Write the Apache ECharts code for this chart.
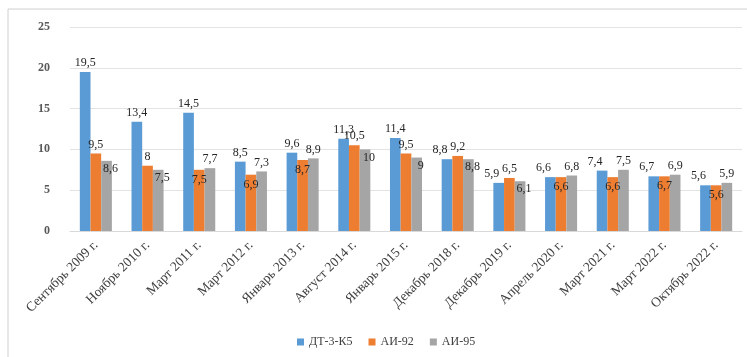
<!DOCTYPE html>
<html>
<head>
<meta charset="utf-8">
<script src="https://cdn.jsdelivr.net/npm/echarts@6/dist/echarts.min.js"></script>
<style>
html,body{margin:0;padding:0;background:#fff;}
#chart{width:747px;height:357px;}
</style>
</head>
<body>
<div id="chart"></div>
<script>
// Fuel price indices by period
const categories = ['Сентябрь 2009 г.','Ноябрь 2010 г.','Март 2011 г.','Март 2012 г.','Январь 2013 г.','Август 2014 г.','Январь 2015 г.','Декабрь 2018 г.','Декабрь 2019 г.','Апрель 2020 г.','Март 2021 г.','Март 2022 г.','Октябрь 2022 г.'];
const seriesNames = ['ДТ-3-К5','АИ-92','АИ-95'];
const dt = [19.5,13.4,14.5,8.5,9.6,11.3,11.4,8.8,5.9,6.6,7.4,6.7,5.6];
const ai92 = [9.5,8,7.5,6.9,8.7,10.5,9.5,9.2,6.5,6.6,6.6,6.7,5.6];
const ai95 = [8.6,7.5,7.7,7.3,8.9,10,9,8.8,6.1,6.8,7.5,6.9,5.9];
const yTicks = [0,5,10,15,20,25];

const colors = ['#5b9bd5','#ed7d31','#a5a5a5'];
const serif = '"Liberation Serif","DejaVu Serif",serif';

const chart = echarts.init(document.getElementById('chart'));
const fmt = p => String(p.value).replace('.', ',');

// Crowded groups: move labels so they do not sit on top of each other
const dtItems = dt.map((v, i) => {
  const crowded = v < 10 && v - ai92[i] < 0.85;
  return crowded ? {value: v, label: {offset: [-7, 0]}} : v;
});
const ai92Items = ai92.map((v, i) => {
  const low = v <= dt[i] && v <= ai95[i];
  return low ? {value: v, label: {position: 'insideTop', distance: 4}} : v;
});
const ai95Items = ai95.map((v, i) => {
  const low = v < ai92[i];
  return low ? {value: v, label: {position: 'insideTop', distance: 2, offset: [4, 0]}} : v;
});

const mk = (name, data, i) => ({
  name, type: 'bar', data,
  itemStyle: {color: colors[i]},
  barGap: '0%', barCategoryGap: '38%',
  label: {show: true, position: 'top', distance: 3, formatter: fmt,
    fontFamily: serif, fontSize: 12, color: '#262626'}
});
chart.setOption({
  animation: false,
  color: colors,
  graphic: [{type: 'rect', shape: {x: 8, y: 9, width: 760, height: 370},
    style: {fill: 'none', stroke: '#d0d0d0', lineWidth: 1}}],
  grid: {left: 70, right: 5, top: 27, bottom: 126},
  legend: {bottom: 4, left: 292, itemWidth: 7, itemHeight: 7, itemGap: 16,
    icon: 'rect', textStyle: {fontFamily: serif, fontSize: 12, color: '#404040'},
    data: seriesNames},
  xAxis: {type: 'category', data: categories,
    axisLine: {lineStyle: {color: '#d9d9d9'}}, axisTick: {show: false},
    axisLabel: {rotate: 45, interval: 0, margin: 12, fontFamily: serif, fontSize: 13.5, color: '#404040'}},
  yAxis: {type: 'value', min: yTicks[0], max: yTicks[yTicks.length-1], interval: 5,
    axisLine: {show: false}, axisTick: {show: false},
    splitLine: {lineStyle: {color: '#e3e3e3'}},
    axisLabel: {margin: 20, fontFamily: serif, fontSize: 12, fontWeight: 'bold', color: '#595959'}},
  series: [mk(seriesNames[0], dtItems, 0), mk(seriesNames[1], ai92Items, 1), mk(seriesNames[2], ai95Items, 2)]
});
</script>
</body>
</html>
